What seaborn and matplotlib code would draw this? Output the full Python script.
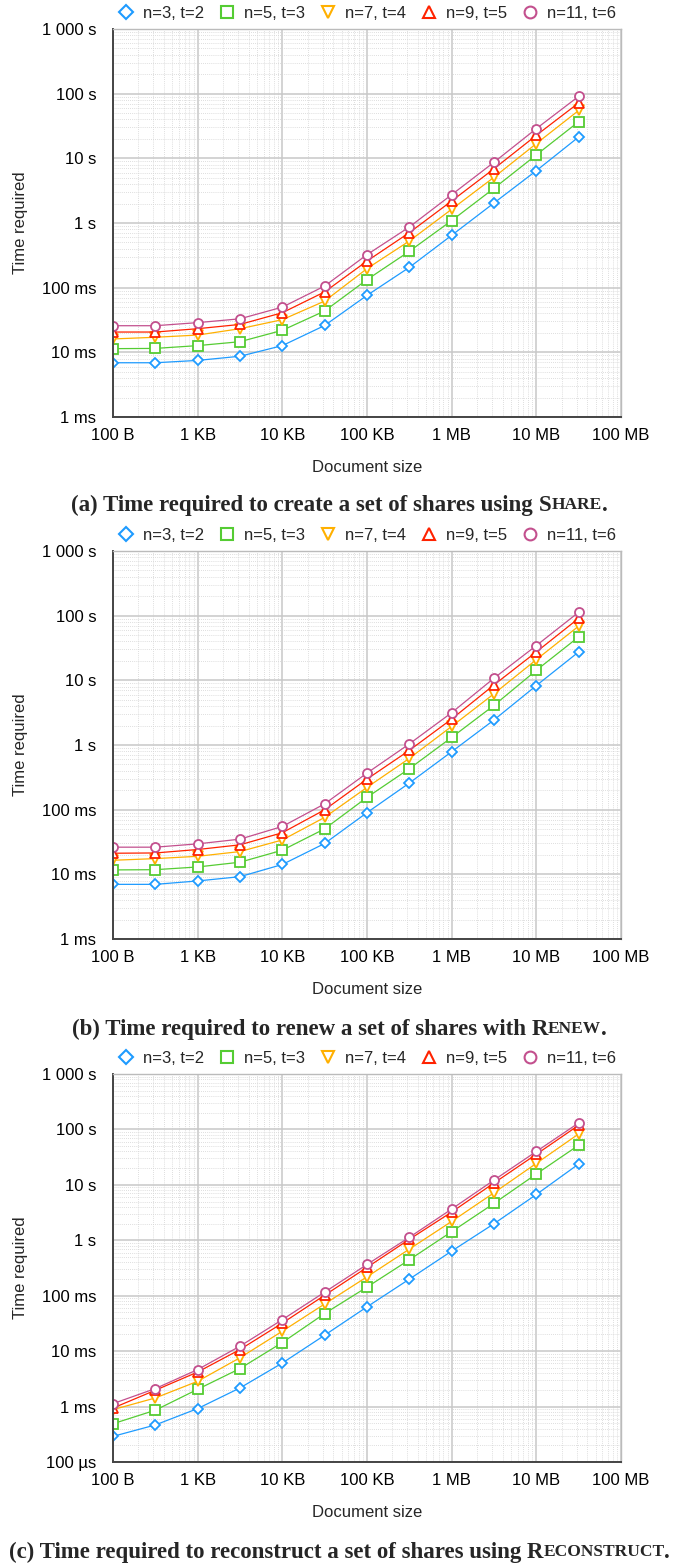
import numpy as np
import pandas as pd
import seaborn as sns
import matplotlib.pyplot as plt
from matplotlib.lines import Line2D
from matplotlib.ticker import FixedLocator, LogLocator, NullFormatter

# document sizes in bytes (half-decade steps)
sizes = [100, 316, 1000, 3162, 10000, 31623, 100000, 316228,
         1000000, 3162278, 10000000, 31622777]
series = ["n=3, t=2", "n=5, t=3", "n=7, t=4", "n=9, t=5", "n=11, t=6"]

# (a) Share, seconds
share_n3 = [0.0069, 0.0069, 0.0075, 0.0087, 0.0127, 0.026, 0.076, 0.206, 0.645, 2.04, 6.44, 21.4]
share_n5 = [0.0114, 0.0115, 0.0127, 0.0146, 0.0219, 0.0436, 0.133, 0.365, 1.09, 3.44, 11.3, 36.9]
share_n7 = [0.0161, 0.0171, 0.0185, 0.0232, 0.032, 0.062, 0.197, 0.527, 1.63, 5.1, 16.9, 55.0]
share_n9 = [0.0206, 0.0206, 0.0232, 0.027, 0.041, 0.086, 0.258, 0.709, 2.19, 6.9, 22.7, 72.0]
share_n11 = [0.0258, 0.0258, 0.0288, 0.033, 0.050, 0.106, 0.324, 0.867, 2.74, 8.7, 28.8, 91.0]

# (b) Renew, seconds
renew_n3 = [0.0070, 0.0070, 0.0079, 0.0092, 0.0142, 0.030, 0.090, 0.258, 0.787, 2.44, 8.3, 27.5]
renew_n5 = [0.0117, 0.0118, 0.0130, 0.0154, 0.0236, 0.0505, 0.155, 0.430, 1.31, 4.1, 14.3, 47.0]
renew_n7 = [0.0165, 0.0175, 0.0190, 0.0225, 0.034, 0.076, 0.221, 0.621, 1.94, 6.2, 20.9, 69.0]
renew_n9 = [0.0212, 0.0214, 0.0242, 0.0286, 0.044, 0.0996, 0.297, 0.826, 2.52, 8.5, 27.5, 91.0]
renew_n11 = [0.0263, 0.0263, 0.0296, 0.035, 0.055, 0.123, 0.368, 1.04, 3.16, 10.8, 34.5, 113.0]

# (c) Reconstruct, seconds
recon_n3 = [0.00029, 0.000466, 0.00092, 0.00217, 0.0061, 0.0194, 0.063, 0.199, 0.638, 1.99, 6.7, 23.8]
recon_n5 = [0.00049, 0.00086, 0.00205, 0.00485, 0.0143, 0.0477, 0.143, 0.445, 1.43, 4.63, 15.7, 52.0]
recon_n7 = [0.00088, 0.00143, 0.00286, 0.0076, 0.0229, 0.071, 0.219, 0.693, 2.19, 7.2, 24.4, 83.0]
recon_n9 = [0.00094, 0.00197, 0.0042, 0.0107, 0.032, 0.102, 0.324, 1.04, 3.23, 10.8, 35.6, 119.0]
recon_n11 = [0.00113, 0.00211, 0.00465, 0.0123, 0.037, 0.116, 0.366, 1.13, 3.66, 12.2, 40.0, 131.0]

x_ticks = [1e2, 1e3, 1e4, 1e5, 1e6, 1e7, 1e8]
x_labels = ["100 B", "1 KB", "10 KB", "100 KB", "1 MB", "10 MB", "100 MB"]
y_ticks = [1e-4, 1e-3, 1e-2, 1e-1, 1, 10, 100, 1000]
y_labels = ["100 µs", "1 ms", "10 ms", "100 ms", "1 s", "10 s", "100 s", "1 000 s"]

colors = ["#1E9BFF", "#55CC33", "#FFB000", "#FF2200", "#C3508E"]
markers = ["D", "s", "v", "^", "o"]
msizes = [5, 6.5, 6.5, 6.5, 6.5]

panels = [
    ([share_n3, share_n5, share_n7, share_n9, share_n11], 1e-3,
     [("(a) Time required to create a set of shares using ", 16.5), ("S", 16.5), ("HARE", 12.5), (".", 16.5)]),
    ([renew_n3, renew_n5, renew_n7, renew_n9, renew_n11], 1e-3,
     [("(b) Time required to renew a set of shares with ", 16.5), ("R", 16.5), ("ENEW", 12.5), (".", 16.5)]),
    ([recon_n3, recon_n5, recon_n7, recon_n9, recon_n11], 1e-4,
     [("(c) Time required to reconstruct a set of shares using ", 16.5), ("R", 16.5), ("ECONSTRUCT", 12.5), (".", 16.5)]),
]

sns.set_style("white")
plt.rcParams["font.family"] = ["Liberation Sans", "DejaVu Sans"]

W, H = 679, 1564
fig = plt.figure(figsize=(W / 100, H / 100), dpi=100)

ax_tops = [29, 551, 1074]
ax_h = 388
ax_left, ax_right = 113, 621
caption_y = [503, 1027, 1550]

for (vals, ymin, caption), top, cap_y in zip(panels, ax_tops, caption_y):
    ax = fig.add_axes([ax_left / W, 1 - (top + ax_h) / H,
                       (ax_right - ax_left) / W, ax_h / H])
    rows = []
    for name, v in zip(series, vals):
        for s, t in zip(sizes, v):
            rows.append({"size": s, "time": t, "series": name})
    df = pd.DataFrame(rows)

    for name, c, m, ms in zip(series, colors, markers, msizes):
        sns.lineplot(data=df[df["series"] == name], x="size", y="time", ax=ax,
                     color=c, lw=0.9, marker=m, markersize=ms,
                     mfc="white", mec=c, mew=1.3, label=name, legend=False)

    ax.set_xscale("log")
    ax.set_yscale("log")
    ax.set_xlim(1e2, 1e8)
    ax.set_ylim(ymin, 1e3)

    ax.xaxis.set_major_locator(FixedLocator(x_ticks))
    ax.set_xticklabels(x_labels)
    yt = [t for t in y_ticks if t >= ymin]
    yl = [l for t, l in zip(y_ticks, y_labels) if t >= ymin]
    ax.yaxis.set_major_locator(FixedLocator(yt))
    ax.set_yticklabels(yl)
    ax.xaxis.set_minor_locator(LogLocator(base=10, subs=np.arange(2, 10), numticks=20))
    ax.yaxis.set_minor_locator(LogLocator(base=10, subs=np.arange(2, 10), numticks=20))
    ax.xaxis.set_minor_formatter(NullFormatter())
    ax.yaxis.set_minor_formatter(NullFormatter())

    ax.grid(which="major", color="#c8c8c8", lw=1.1, ls="-")
    ax.grid(which="minor", color="#d4d4d4", lw=0.6, ls=(0, (1, 1.5)))
    ax.set_axisbelow(True)
    ax.tick_params(which="both", length=0, labelsize=12, colors="black")
    ax.tick_params(axis="y", pad=12)
    ax.tick_params(axis="x", pad=8)

    for side in ["left", "bottom"]:
        ax.spines[side].set_color("#444444")
        ax.spines[side].set_linewidth(1.4)
    for side in ["top", "right"]:
        ax.spines[side].set_color("#bbbbbb")
        ax.spines[side].set_linewidth(1.0)

    ax.set_xlabel("Document size", fontsize=12, labelpad=12)
    ax.set_ylabel("Time required", fontsize=12, labelpad=10)

    handles = [Line2D([], [], ls="none", marker=m, markersize=ms + 2, mfc="white",
                      mec=c, mew=1.5) for c, m, ms in zip(colors, markers, msizes)]
    ax.legend(handles, series, loc="lower center", bbox_to_anchor=(0.5, 1.0),
              ncol=5, frameon=False, fontsize=12, handlelength=1.0,
              handletextpad=0.5, columnspacing=0.9, borderaxespad=0.1)

    # caption with small caps, centered on the figure
    renderer = fig.canvas.get_renderer()
    texts = []
    for txt, fs in caption:
        t = fig.text(0, 1 - cap_y / H, txt, fontsize=fs, fontweight="bold",
                     family=["Liberation Serif", "DejaVu Serif"], va="center_baseline")
        texts.append(t)
    widths = [t.get_window_extent(renderer).width for t in texts]
    x0 = (W - sum(widths)) / 2
    for t, w in zip(texts, widths):
        t.set_x(x0 / W)
        x0 += w

fig.savefig("out.png", dpi=100)
